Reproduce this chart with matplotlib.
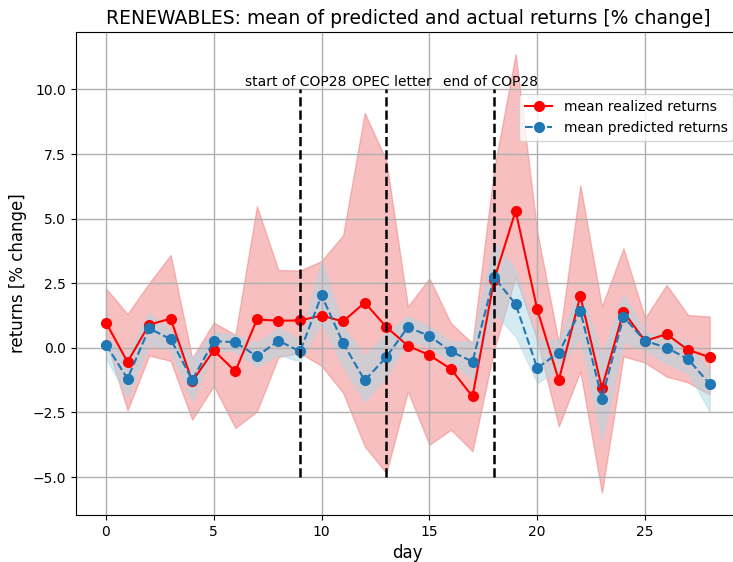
import numpy as np
import matplotlib
matplotlib.use("Agg")
import matplotlib.pyplot as plt

# days since start of window
days = list(range(29))

# mean realized returns and its band
realized_mean = [0.98, -0.55, 0.9, 1.13, -1.3, -0.1, -0.91, 1.1, 1.05, 1.06,
                 1.25, 1.02, 1.75, 0.81, 0.08, -0.28, -0.82, -1.88, 2.63, 5.3,
                 1.49, -1.25, 2.01, -1.56, 1.4, 0.27, 0.53, -0.08, -0.36]
realized_upper = [2.3, 1.31, 2.5, 3.59, -0.4, 0.98, 0.5, 5.48, 3.01, 2.99,
                  3.36, 4.36, 9.09, 7.26, 1.6, 2.69, 0.95, 0.18, 6.9, 11.37,
                  4.5, 0.2, 6.29, 1.6, 3.85, 1.15, 2.43, 1.27, 1.21]
realized_lower = [0.3, -2.42, -0.3, -0.5, -2.78, -1.47, -3.1, -2.46, -0.35, -0.2,
                  -0.7, -1.74, -3.81, -4.84, -1.69, -3.75, -3.17, -4.0, -0.08, 2.75,
                  0.3, -3.04, -0.91, -5.61, -0.33, -0.57, -1.11, -1.34, -1.81]

# mean predicted returns and its band
predicted_mean = [0.12, -1.19, 0.75, 0.34, -1.24, 0.26, 0.22, -0.33, 0.28, -0.14,
                  2.03, 0.18, -1.26, -0.36, 0.8, 0.46, -0.14, -0.53, 2.73, 1.69,
                  -0.78, -0.18, 1.43, -1.96, 1.2, 0.27, 0.01, -0.44, -1.4]
predicted_upper = [0.3, -0.3, 1.35, 0.63, -0.4, 0.6, 0.5, 0.18, 0.77, 0.3,
                   3.33, 0.82, -0.33, 0.58, 1.21, 0.82, 0.24, 0.24, 4.1, 3.0,
                   0.3, 0.3, 2.24, -0.33, 2.05, 0.58, 0.44, 0.2, -0.91]
predicted_lower = [-0.4, -1.9, 0.15, -0.08, -2.07, -0.05, -0.14, -0.72, -0.27, -0.53,
                   1.02, -0.72, -2.07, -1.1, 0.31, 0.05, -0.53, -1.17, 1.35, 0.44,
                   -1.36, -0.85, 0.44, -3.55, 0.24, -0.08, -0.59, -0.97, -2.46]

# events (label x is nudged a little so the texts don't collide)
event_days = [9, 13, 18]
event_labels = ["start of COP28", "OPEC letter", "end of COP28"]
label_x = [8.8, 13.25, 17.85]

fig = plt.figure(figsize=(7.33, 5.62), dpi=100)
ax = fig.add_axes([0.1034, 0.084, 0.906, 0.859])

ax.fill_between(days, realized_lower, realized_upper, color="lightcoral", alpha=0.5)
ax.fill_between(days, predicted_lower, predicted_upper, color="lightblue", alpha=0.5)
ax.plot(days, realized_mean, color="red", marker="o", markersize=7,
        label="mean realized returns")
ax.plot(days, predicted_mean, color="tab:blue", marker="o", markersize=7,
        linestyle="--", label="mean predicted returns")

for d, lx, lab in zip(event_days, label_x, event_labels):
    ax.vlines(d, -5, 10, colors="black", linestyles="--", linewidth=1.8)
    ax.text(lx, 10, lab, ha="center", va="bottom", fontsize=10)

ax.set_title("RENEWABLES: mean of predicted and actual returns [% change]", fontsize=13.5)
ax.set_xlabel("day", fontsize=12)
ax.set_ylabel("returns [% change]", fontsize=12)
ax.grid(True, linewidth=1)
ax.legend(loc="upper right", bbox_to_anchor=(1.0, 0.885), fontsize=10)

plt.savefig("out.png", dpi=100)
plt.close()
